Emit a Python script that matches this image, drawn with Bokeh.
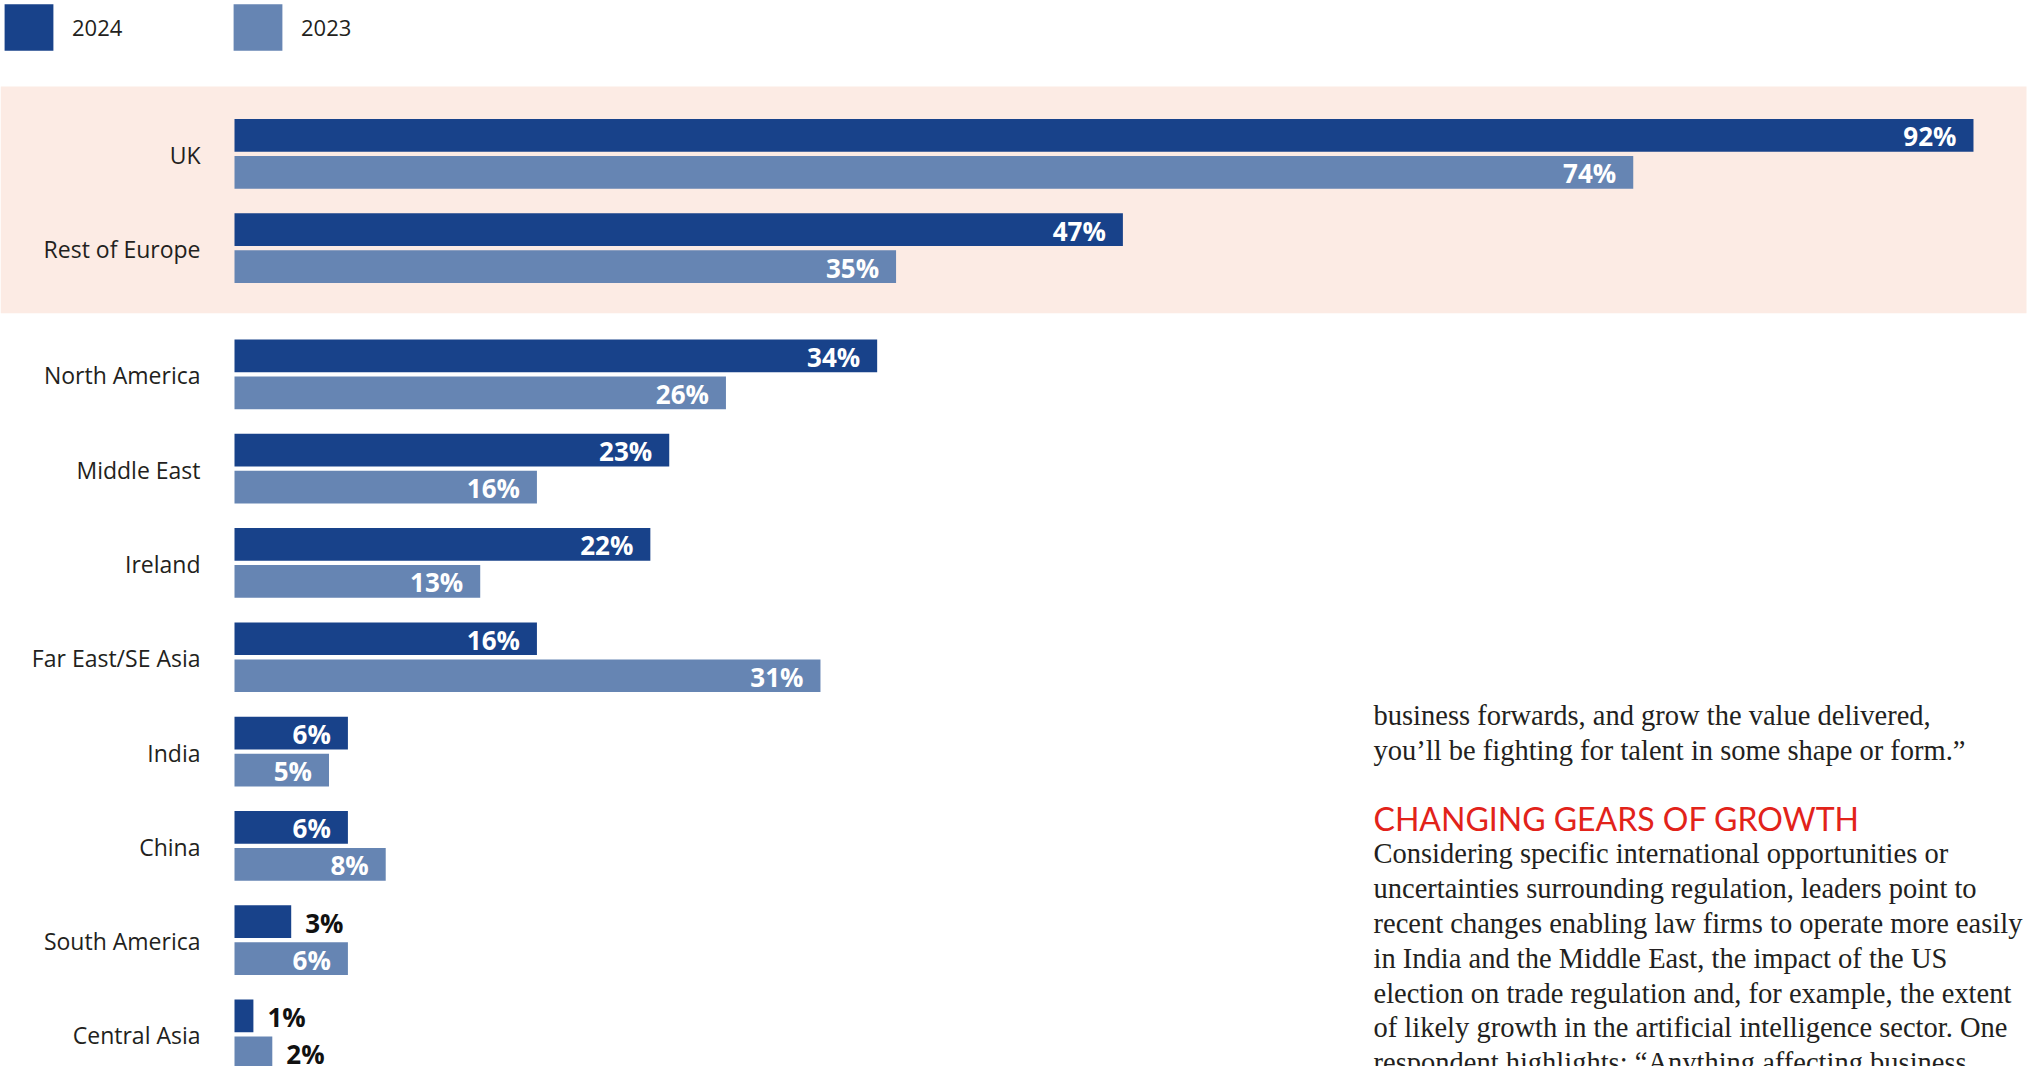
import numpy as np
from bokeh.plotting import figure
from bokeh.models import Range1d, ColumnDataSource, Legend, LegendItem, Label, BoxAnnotation
from bokeh.transform import dodge
from bokeh.core.properties import value
from bokeh.embed import file_html
from bokeh.resources import INLINE

# ---------------- data ----------------
regions = ["UK", "Rest of Europe", "North America", "Middle East", "Ireland",
           "Far East/SE Asia", "India", "China", "South America", "Central Asia"]
values_2024 = [92, 47, 34, 23, 22, 16, 6, 6, 3, 1]
values_2023 = [74, 35, 26, 16, 13, 31, 5, 8, 6, 2]
highlighted = ["UK", "Rest of Europe"]
series_labels = ["2024", "2023"]

text_before = [
    "business forwards, and grow the value delivered,",
    "you\u2019ll be fighting for talent in some shape or form.\u201d",
]
heading = "CHANGING GEARS OF GROWTH"
text_after = [
    "Considering specific international opportunities or",
    "uncertainties surrounding regulation, leaders point to",
    "recent changes enabling law firms to operate more easily",
    "in India and the Middle East, the impact of the US",
    "election on trade regulation and, for example, the extent",
    "of likely growth in the artificial intelligence sector. One",
    "respondent highlights: \u201cAnything affecting business",
]

# ---------------- style / layout ----------------
W, H = 2027, 1066
DARK = "#18428a"
LIGHT = "#6685b3"
PINK = "#fcebe4"
TXT = "#231f20"
RED = "#e2231a"

PX_PER_PCT = 18.902
ZERO_X = 234          # screen x of 0%
PITCH = 94.3          # px per region
GAP = 31.85 / PITCH   # extra gap after highlighted block
FIRST_Y = 153.4       # screen y of first region centre
OFF = 18.5 / PITCH
BAR_H = 32.7 / PITCH
INSIDE_MIN = 5        # values below this are labelled outside the bar

idx = np.arange(len(regions), dtype=float)
ypos = idx + np.where(np.isin(regions, highlighted), 0.0, GAP)

src = ColumnDataSource(dict(region=regions, y=ypos, v24=values_2024, v23=values_2023))

p = figure(width=W, height=H, output_backend="svg", toolbar_location=None,
           x_range=Range1d(-ZERO_X / PX_PER_PCT, (W - ZERO_X) / PX_PER_PCT),
           y_range=Range1d((H - FIRST_Y) / PITCH, -FIRST_Y / PITCH),
           min_border=0, outline_line_color=None, background_fill_color="white")
p.xaxis.visible = False
p.yaxis.visible = False
p.grid.visible = False

hl_pos = ypos[np.isin(regions, highlighted)]
band = BoxAnnotation(top=hl_pos.min() - 0.715, bottom=hl_pos.max() + 0.69,
                     right=(W - 1 - ZERO_X) / PX_PER_PCT,
                     fill_color=PINK, fill_alpha=1.0, line_alpha=0, level="underlay")
p.add_layout(band)

r24 = p.hbar(y=dodge("y", -OFF), left=0, right="v24", height=BAR_H, source=src,
             fill_color=DARK, line_color=None)
r23 = p.hbar(y=dodge("y", OFF), left=0, right="v23", height=BAR_H, source=src,
             fill_color=LIGHT, line_color=None)

# region labels
p.text(x=0, y="y", text="region", source=src, x_offset=-34, y_offset=1, text_align="right",
       text_baseline="middle", text_font=value("Open Sans"), text_font_size="23px",
       text_color=TXT)

def label_source(vals, shift):
    inside = [v >= INSIDE_MIN for v in vals]
    return ColumnDataSource(dict(
        x=vals, y=ypos + shift, text=[f"{v}%" for v in vals],
        off=[-17 if i else 14 for i in inside],
        align=["right" if i else "left" for i in inside],
        color=["white" if i else "#111111" for i in inside]))

for vals, shift in ((values_2024, -OFF), (values_2023, OFF)):
    p.text(x="x", y="y", text="text", source=label_source(vals, shift), x_offset="off",
           y_offset=1, text_align="align", text_color="color", text_baseline="middle",
           text_font=value("Open Sans"), text_font_style="bold", text_font_size="26px")

legend = Legend(items=[LegendItem(label=series_labels[0], renderers=[r24]),
                       LegendItem(label=series_labels[1], renderers=[r23])],
                orientation="horizontal", location="top_left",
                glyph_width=61, glyph_height=58, label_standoff=13, label_width=100,
                spacing=55, padding=0, margin=-2, border_line_alpha=0,
                background_fill_alpha=0, label_text_font="Open Sans",
                label_text_font_size="22px", label_text_color=TXT)
p.add_layout(legend)

# side text (screen units, y measured from bottom)
TEXT_X = 1373
SERIF_SIZE = "28.5px"
LINE_H = 34.8
base1 = [715.4, 750.2]
for t, b in zip(text_before, base1):
    p.add_layout(Label(x=TEXT_X, y=H - b, x_units="screen", y_units="screen", text=t,
                       text_font="Liberation Serif", text_font_size=SERIF_SIZE,
                       text_color=TXT, text_baseline="alphabetic"))
p.add_layout(Label(x=TEXT_X, y=H - 818.4, x_units="screen", y_units="screen", text=heading,
                   text_font="Lato", text_font_size="32px", text_color=RED,
                   text_baseline="alphabetic"))
for i, t in enumerate(text_after):
    p.add_layout(Label(x=TEXT_X, y=H - (853.4 + i * LINE_H), x_units="screen", y_units="screen",
                       text=t, text_font="Liberation Serif", text_font_size=SERIF_SIZE,
                       text_color=TXT, text_baseline="alphabetic"))

open("out.html", "w").write(file_html(p, INLINE))
